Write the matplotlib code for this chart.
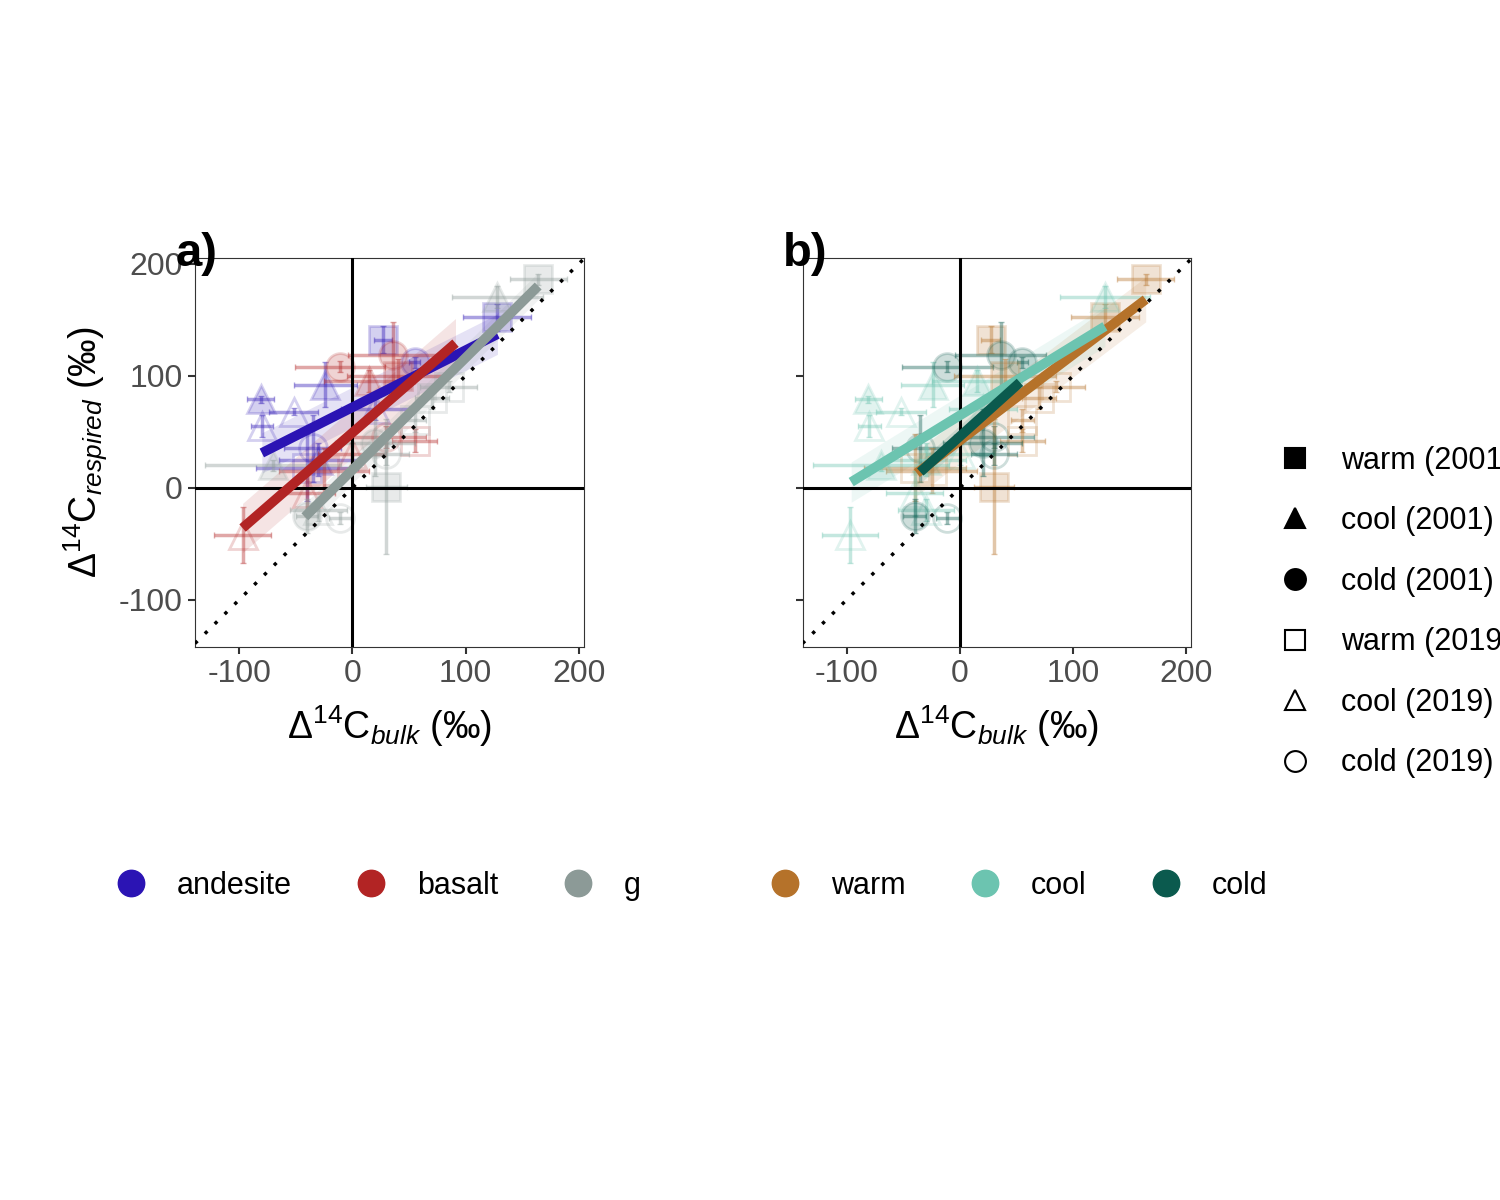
import matplotlib.pyplot as plt
from matplotlib.lines import Line2D
import numpy as np

plt.rcParams['font.family'] = ['Liberation Sans', 'DejaVu Sans']
plt.rcParams['mathtext.fontset'] = 'custom'
plt.rcParams['mathtext.rm'] = 'Liberation Sans'
plt.rcParams['mathtext.it'] = 'Liberation Sans:italic'
plt.rcParams['axes.unicode_minus'] = False

x_bulk = [-81, -80, -24, -52, 27, 128, 55, -35, -30, -40, 20,
          -97, -11, 36, 15, 30, 0, -25, -40, 55, 40,
          164, 128, 30, 70, 85, 55, -11, -30, -40, 30, 20, -70]
y_resp = [79, 55, 92, 68, 132, 152, 112, 35, 25, 18, 70,
          -42, 108, 118, 95, 45, 30, 15, -5, 42, 100,
          186, 170, 1, 80, 90, 60, -27, -20, -25, 30, 40, 20]
x_err = [12, 10, 28, 22, 8, 30, 5, 25, 35, 45, 30,
         25, 40, 40, 40, 35, 30, 40, 25, 20, 45,
         25, 40, 18, 15, 25, 10, 10, 25, 10, 20, 35, 60]
y_err = [3, 10, 20, 3, 12, 12, 5, 30, 15, 30, 10,
         25, 5, 30, 10, 10, 10, 20, 20, 10, 15,
         5, 10, 60, 10, 5, 10, 5, 10, 15, 10, 30, 5]
parent = ['andesite'] * 11 + ['basalt'] * 10 + ['g'] * 12
climate = ['cool', 'cool', 'cool', 'cool', 'warm', 'warm', 'cold', 'cold', 'cool', 'warm', 'cool',
           'cool', 'cold', 'cold', 'cool', 'cold', 'cool', 'warm', 'cool', 'warm', 'warm',
           'warm', 'cool', 'warm', 'warm', 'warm', 'warm', 'cold', 'cool', 'cold', 'cold', 'cold', 'cool']
year = [2001, 2019, 2001, 2019, 2001, 2001, 2001, 2019, 2001, 2019, 2019,
        2019, 2001, 2001, 2001, 2019, 2019, 2019, 2019, 2019, 2001,
        2001, 2001, 2001, 2019, 2019, 2019, 2019, 2019, 2001, 2019, 2001, 2001]

# fitted lines: start x, end x, start y, end y, band half-width
parent_groups = ['andesite', 'basalt', 'g']
parent_fit_x0 = [-80, -97, -42]
parent_fit_x1 = [128, 91, 164]
parent_fit_y0 = [31, -36, -26]
parent_fit_y1 = [137, 129, 180]
parent_band = [18, 22, 12]

climate_groups = ['warm', 'cool', 'cold']
climate_fit_x0 = [-38, -96, -35]
climate_fit_x1 = [164, 128, 53]
climate_fit_y0 = [13, 5, 14]
climate_fit_y1 = [168, 144, 94]
climate_band = [20, 18, 10]

parent_colors = {'andesite': '#2B14B4', 'basalt': '#B22424', 'g': '#8C9A97'}
climate_colors = {'warm': '#B5722A', 'cool': '#6CC4B0', 'cold': '#0B5A4E'}
shape = {'warm': 's', 'cool': '^', 'cold': 'o'}


def draw_panel(ax, groups, colors, gcol, x0s, x1s, y0s, y1s, bands, label):
    for i in range(len(x_bulk)):
        c = colors[gcol[i]]
        filled = year[i] == 2001
        ax.errorbar(x_bulk[i], y_resp[i], xerr=x_err[i], yerr=y_err[i], fmt='none',
                    ecolor=c, alpha=0.4, elinewidth=2.5, capsize=2, zorder=2)
        ax.plot(x_bulk[i], y_resp[i], marker=shape[climate[i]], ms=20,
                mfc=c if filled else 'none', mec=c, mew=2, alpha=0.2, zorder=2)
    for g, x0, x1, y0, y1, b in zip(groups, x0s, x1s, y0s, y1s, bands):
        xs = np.array([x0, x1])
        ys = np.array([y0, y1])
        ax.fill_between(xs, ys - b, ys + b, color=colors[g], alpha=0.12, lw=0, zorder=1)
        ax.plot(xs, ys, color=colors[g], lw=7, solid_capstyle='butt', zorder=4)
    ax.axhline(0, color='black', lw=2.2, zorder=3)
    ax.axvline(0, color='black', lw=2.2, zorder=3)
    ax.plot([-139, 204], [-139, 204], color='black', ls=(0, (1, 3)), lw=2.5, zorder=5)
    ax.set_xlim(-139, 204)
    ax.set_ylim(-142, 205)
    ax.set_xticks([-100, 0, 100, 200])
    ax.set_yticks([-100, 0, 100, 200])
    ax.tick_params(labelsize=23, colors='#333333', length=5, width=1.5, labelcolor='#4D4D4D', pad=4)
    for s in ax.spines.values():
        s.set_color('#333333')
    ax.set_xlabel(r'$\Delta^{14}\mathregular{C}_{bulk}$ (‰)', fontsize=27, labelpad=10)
    ax.text(-0.05, 1.01, label, transform=ax.transAxes, fontsize=34,
            fontweight='bold', va='center', ha='left')


fig = plt.figure(figsize=(15, 12), dpi=100)
ax1 = fig.add_axes([0.13, 0.461, 0.259, 0.324])
ax2 = fig.add_axes([0.535, 0.461, 0.259, 0.324])

draw_panel(ax1, parent_groups, parent_colors, parent,
           parent_fit_x0, parent_fit_x1, parent_fit_y0, parent_fit_y1, parent_band, 'a)')
draw_panel(ax2, climate_groups, climate_colors, climate,
           climate_fit_x0, climate_fit_x1, climate_fit_y0, climate_fit_y1, climate_band, 'b)')
ax1.set_ylabel(r'$\Delta^{14}\mathregular{C}_{respired}$ (‰)', fontsize=27, labelpad=6)
ax2.set_yticklabels([])

# colour legends
h1 = [Line2D([], [], marker='o', ls='none', ms=19, color=parent_colors[g], label=g) for g in parent_groups]
fig.legend(handles=h1, loc='center', bbox_to_anchor=(0.247, 0.262), ncol=3, frameon=False,
           fontsize=22, handletextpad=0.5, columnspacing=1.6)
h2 = [Line2D([], [], marker='o', ls='none', ms=19, color=climate_colors[g], label=g) for g in climate_groups]
fig.legend(handles=h2, loc='center', bbox_to_anchor=(0.674, 0.262), ncol=3, frameon=False,
           fontsize=22, handletextpad=0.5, columnspacing=1.6)

# shape legend (runs off the right edge like the original)
shape_labels = ['warm (2001)', 'cool (2001)', 'cold (2001)', 'warm (2019)', 'cool (2019)', 'cold (2019)']
h3 = []
for lab in shape_labels:
    cl, yr = lab.split(' ')
    filled = yr == '(2001)'
    h3.append(Line2D([], [], marker=shape[cl], ls='none', ms=15, color='black',
                     mfc='black' if filled else 'none', mew=1.5, label=lab))
fig.legend(handles=h3, loc='center left', bbox_to_anchor=(0.835, 0.49), frameon=False,
           fontsize=22, labelspacing=1.0, handletextpad=0.5, borderaxespad=0)

fig.savefig('out.png', dpi=100)
